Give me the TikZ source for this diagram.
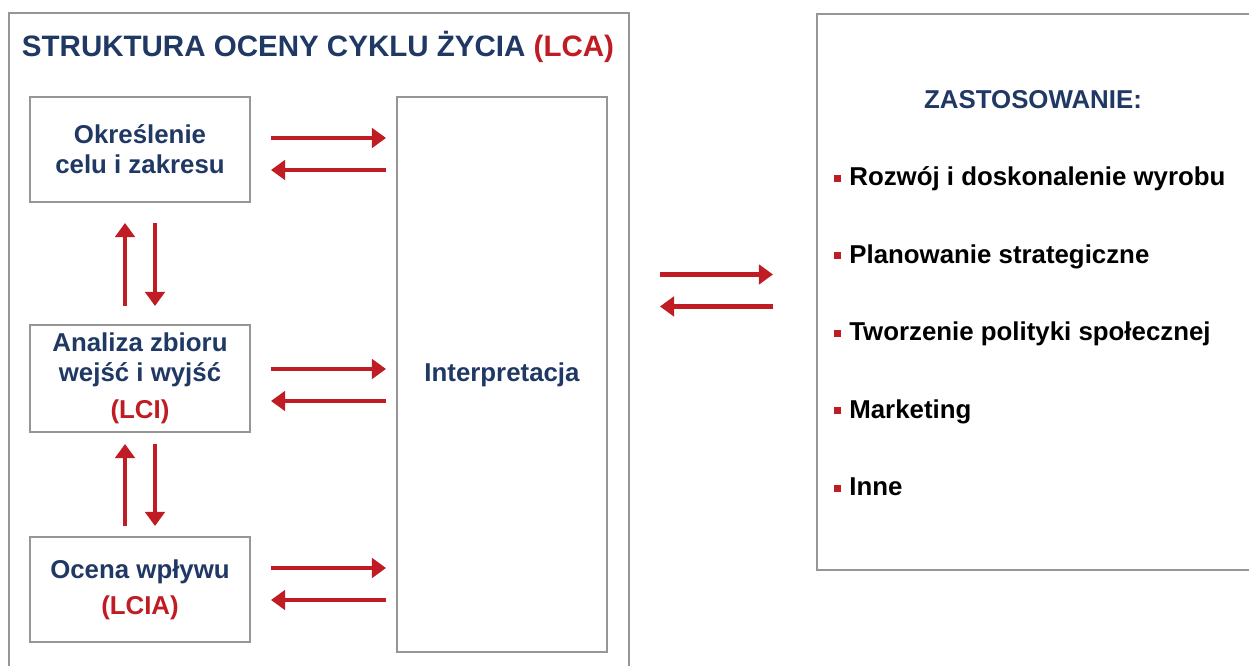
\documentclass[tikz,border=0pt]{standalone}
\usepackage{fontspec}
\setmainfont{Liberation Sans}
\usetikzlibrary{arrows.meta,positioning}
\definecolor{lcablue}{RGB}{31,56,100}
\definecolor{lcared}{RGB}{192,28,36}
\definecolor{ramka}{RGB}{150,150,150}
\newcommand{\pkt}{\textcolor{lcared}{\rule[0.3ex]{0.13cm}{0.14cm}}\hspace{0.17cm}}

\begin{document}
\begin{tikzpicture}[
        box/.style={rectangle, draw=ramka, line width=1.1pt, fill=white, align=center, text=lcablue, font=\fontsize{14.7}{17}\selectfont\bfseries},
        arrow/.style={draw=lcared, line width=2.6pt, -{Triangle[length=8pt, width=11pt]}},
        punkt/.style={anchor=base west, inner sep=0pt, font=\fontsize{14.7}{17}\selectfont\bfseries}
    ]
        \useasboundingbox (0,0) rectangle (24.98,-13.32);

        % ramki
        \node[box, minimum width=12.4cm, minimum height=13.6cm, anchor=north west] (lca) at (0.16,-0.24) {};
        \node[box, minimum width=9cm, minimum height=11.12cm, anchor=north west] (zast) at (16.32,-0.26) {};

        \node[font=\fontsize{16.8}{19}\selectfont\bfseries] (tytul) at (6.36,-0.94) {\textcolor{lcablue}{STRUKTURA OCENY CYKLU ŻYCIA} \textcolor{lcared}{(LCA)}};

        \node[box, minimum width=4.4cm, minimum height=2.1cm] (cel) at (2.8,-2.99) {Określenie\\celu i zakresu};
        \node[box, minimum width=4.4cm, minimum height=2.14cm] (lci) at (2.8,-7.57) {Analiza zbioru\\wejść i wyjść\\[4pt]\textcolor{lcared}{(LCI)}};
        \node[box, minimum width=4.4cm, minimum height=2.1cm] (lcia) at (2.8,-11.79) {Ocena wpływu\\[3.5pt]\textcolor{lcared}{(LCIA)}};
        \node[box, minimum width=4.2cm, minimum height=11.1cm] (interp) at (10.04,-7.49) {Interpretacja};

        \draw[arrow, shorten <=0.4cm, shorten >=0.2cm] ([yshift=0.23cm]cel.east) -- ([yshift=0.23cm]cel.east -| interp.west);
        \draw[arrow, shorten <=0.2cm, shorten >=0.4cm] ([yshift=-0.41cm]cel.east -| interp.west) -- ([yshift=-0.41cm]cel.east);
        \draw[arrow, shorten <=0.4cm, shorten >=0.2cm] ([yshift=0.19cm]lci.east) -- ([yshift=0.19cm]lci.east -| interp.west);
        \draw[arrow, shorten <=0.2cm, shorten >=0.4cm] ([yshift=-0.45cm]lci.east -| interp.west) -- ([yshift=-0.45cm]lci.east);
        \draw[arrow, shorten <=0.4cm, shorten >=0.2cm] ([yshift=0.43cm]lcia.east) -- ([yshift=0.43cm]lcia.east -| interp.west);
        \draw[arrow, shorten <=0.2cm, shorten >=0.4cm] ([yshift=-0.21cm]lcia.east -| interp.west) -- ([yshift=-0.21cm]lcia.east);

        \draw[arrow, shorten <=0.36cm, shorten >=0.4cm] ([xshift=-0.3cm]lci.north) -- ([xshift=-0.3cm]cel.south);
        \draw[arrow, shorten <=0.4cm, shorten >=0.36cm] ([xshift=0.3cm]cel.south) -- ([xshift=0.3cm]lci.north);
        \draw[arrow, shorten <=0.2cm, shorten >=0.22cm] ([xshift=-0.3cm]lcia.north) -- ([xshift=-0.3cm]lci.south);
        \draw[arrow, shorten <=0.22cm, shorten >=0.2cm] ([xshift=0.3cm]lci.south) -- ([xshift=0.3cm]lcia.north);

        \draw[arrow, shorten <=0.6cm, shorten >=0.86cm] ([yshift=0.35cm]zast.west -| lca.east) -- ([yshift=0.35cm]zast.west);
        \draw[arrow, shorten <=0.86cm, shorten >=0.6cm] ([yshift=-0.29cm]zast.west) -- ([yshift=-0.29cm]zast.west -| lca.east);

        % zastosowanie
        \node[text=lcablue, font=\fontsize{14.7}{17}\selectfont\bfseries] (naglowek) at (20.66,-2.0) {ZASTOSOWANIE:};
        \node[punkt] (p1) at (16.68,-3.72) {\pkt Rozwój i doskonalenie wyrobu};
        \node[punkt] (p2) at (16.68,-5.27) {\pkt Planowanie strategiczne};
        \node[punkt] (p3) at (16.68,-6.82) {\pkt Tworzenie polityki społecznej};
        \node[punkt] (p4) at (16.68,-8.37) {\pkt Marketing};
        \node[punkt] (p5) at (16.68,-9.92) {\pkt Inne};
    \end{tikzpicture}
\end{document}
